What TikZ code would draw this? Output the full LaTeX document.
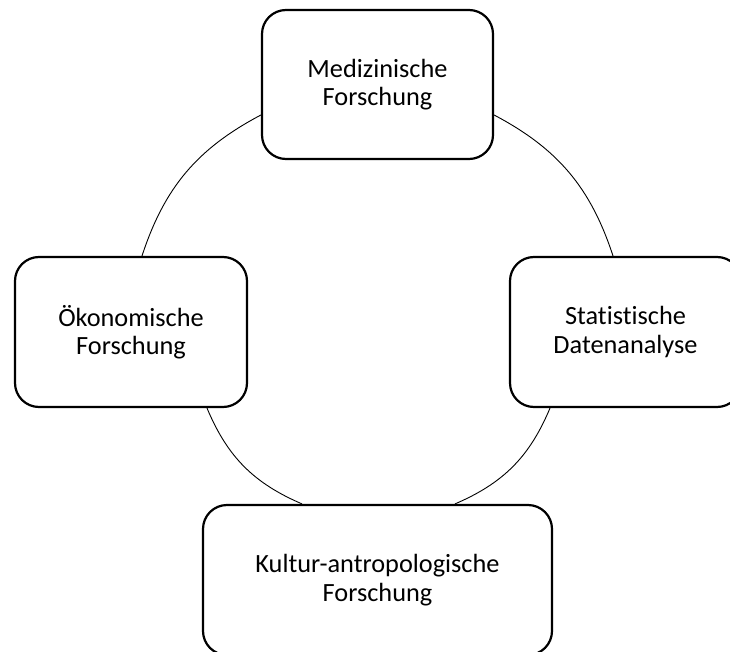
\documentclass[tikz,border=0pt]{standalone}
\usepackage{fontspec}
\setmainfont{Carlito}[Ligatures={NoCommon}]
\usetikzlibrary{calc}
\begin{document}
\begin{tikzpicture}[x=1pt,y=-1pt,
  box/.style={draw=black, line width=2.2pt, rounded corners=24pt, fill=white,
    align=center, inner sep=0pt, minimum height=150pt,
    font=\fontsize{26.3}{28.5}\selectfont},
  link/.style={draw=black, line width=0.9pt}]
\useasboundingbox (0,0) rectangle (730,652);
\clip (0,0) rectangle (730,652);
\node[box, minimum width=231pt, minimum height=149pt] (med) at (377.5,84.5) {Medizinische\\Forschung};
\node[box, minimum width=232pt] (oek) at (131,332) {Ökonomische\\Forschung};
\node[box, minimum width=231pt] (stat) at (625.5,332) {Statistische\\Datenanalyse};
\node[box, minimum width=349pt] (kult) at (377.5,580) {Kultur-antropologische\\Forschung};
\coordinate (a1) at ($(med.west)+(0,30.5)$);
\coordinate (a2) at ($(oek.north)+(11,0)$);
\coordinate (b1) at ($(med.east)+(0,30.5)$);
\coordinate (b2) at ($(stat.north)+(-12.5,0)$);
\coordinate (c1) at ($(oek.south)+(76,0)$);
\coordinate (c2) at ($(kult.north)+(-75.5,0)$);
\coordinate (d1) at ($(stat.south)+(-75.5,0)$);
\coordinate (d2) at ($(kult.north)+(77.5,0)$);
\draw[link] (a1) to[bend right=22] (a2);
\draw[link] (b1) to[bend left=22] (b2);
\draw[link] (c1) to[bend right=22] (c2);
\draw[link] (d1) to[bend left=22] (d2);
\end{tikzpicture}
\end{document}
